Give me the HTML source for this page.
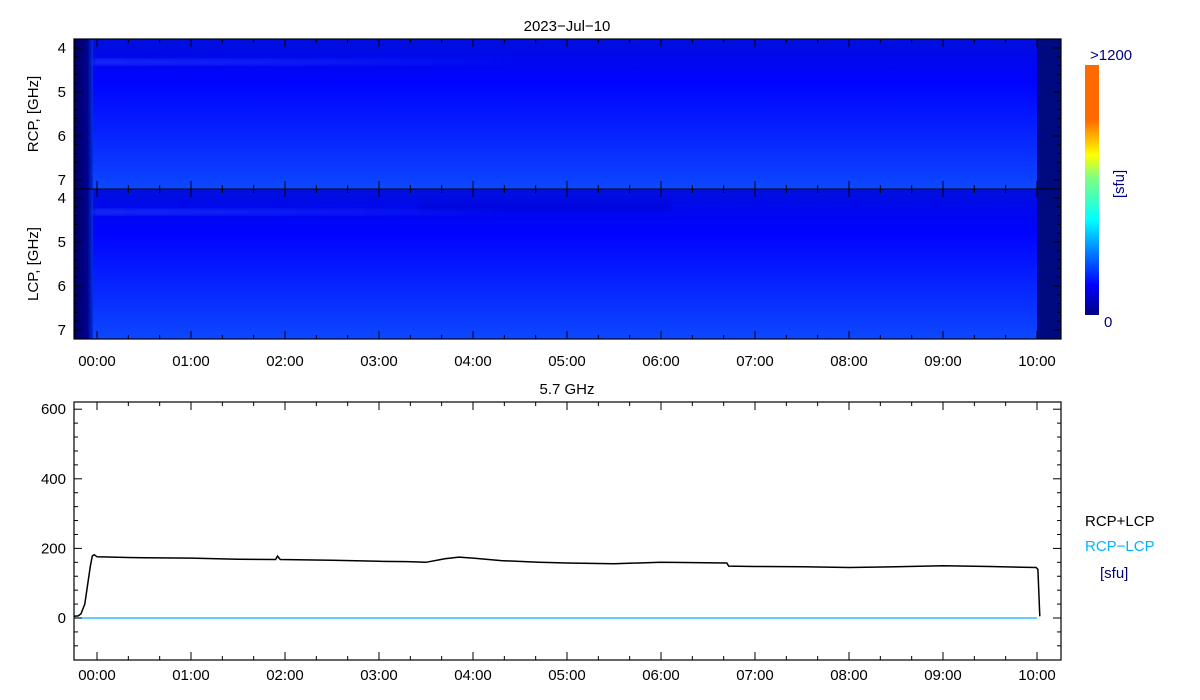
<!DOCTYPE html>
<html><head><meta charset="utf-8"><style>
html,body{margin:0;padding:0;background:#fff;width:1200px;height:700px;overflow:hidden}
svg{display:block}
text{font-family:"Liberation Sans","DejaVu Sans",sans-serif;font-size:15px}
</style></head><body>
<svg id="s" width="1200" height="700" xmlns="http://www.w3.org/2000/svg">
<defs>
<linearGradient id="gv" x1="0" y1="0" x2="0" y2="1">
<stop offset="0" stop-color="#0010dc"/>
<stop offset="0.12" stop-color="#0008ec"/>
<stop offset="0.3" stop-color="#0004ff"/>
<stop offset="0.6" stop-color="#0520ff"/>
<stop offset="0.85" stop-color="#0a38ff"/>
<stop offset="1" stop-color="#0c48ff"/>
</linearGradient>
<linearGradient id="gc" x1="0" y1="1" x2="0" y2="0">
<stop offset="0" stop-color="#000080"/>
<stop offset="0.12" stop-color="#0000ff"/>
<stop offset="0.27" stop-color="#0090ff"/>
<stop offset="0.38" stop-color="#00ffff"/>
<stop offset="0.55" stop-color="#80ff80"/>
<stop offset="0.64" stop-color="#ffff00"/>
<stop offset="0.78" stop-color="#ff6a00"/>
<stop offset="1" stop-color="#ff6a00"/>
</linearGradient>
<linearGradient id="gl" x1="0" y1="0" x2="1" y2="0">
<stop offset="0" stop-color="#000060"/>
<stop offset="0.7" stop-color="#000090"/>
<stop offset="1" stop-color="#0030e0"/>
</linearGradient>
<linearGradient id="gb" x1="0" y1="0" x2="1" y2="0">
<stop offset="0" stop-color="#3050ff" stop-opacity="0.5"/>
<stop offset="0.6" stop-color="#3050ff" stop-opacity="0.25"/>
<stop offset="1" stop-color="#3050ff" stop-opacity="0"/>
</linearGradient>
<filter id="bl"><feGaussianBlur stdDeviation="2"/></filter>
</defs>
<text x="567" y="31" text-anchor="middle" font-size="16">2023−Jul−10</text>
<rect x="74" y="39" width="987" height="150" fill="url(#gv)"/>
<rect x="74" y="189" width="987" height="150" fill="url(#gv)"/>
<rect x="74" y="39" width="19" height="300" fill="url(#gl)"/>
<rect x="1037" y="39" width="24" height="300" fill="#000a80"/>
<rect x="93" y="59" width="420" height="6" fill="url(#gb)" filter="url(#bl)"/>
<rect x="93" y="209" width="420" height="6" fill="url(#gb)" filter="url(#bl)"/>
<rect x="420" y="200" width="250" height="12" fill="#0000b0" opacity="0.2" filter="url(#bl)"/>
<rect x="1085" y="65" width="14" height="250" fill="url(#gc)"/>
<text x="1090" y="60" fill="#000080">&gt;1200</text>
<text x="1104" y="327" fill="#000080">0</text>
<text transform="translate(1124,184) rotate(-90)" text-anchor="middle" fill="#000080">[sfu]</text>
<text transform="translate(38,114) rotate(-90)" text-anchor="middle">RCP, [GHz]</text>
<text transform="translate(38,264) rotate(-90)" text-anchor="middle">LCP, [GHz]</text>
<text x="567" y="394" text-anchor="middle" font-size="16">5.7 GHz</text>
<rect x="74" y="402" width="987" height="258" fill="none" stroke="#000" stroke-width="1.2"/>
<line x1="74" y1="618" x2="1037" y2="618" stroke="#00b4ff" stroke-width="1.3"/>
<text x="1085" y="526">RCP+LCP</text>
<text x="1085" y="551" fill="#00b4ff">RCP−LCP</text>
<text x="1100" y="578" fill="#000080">[sfu]</text>
<g id="g"></g>
</svg>
<script>
var g=document.getElementById('g'),h='';
function X(t){return 97+94*t;}
function L(a,b,c,d){h+='<line x1="'+a+'" y1="'+b+'" x2="'+c+'" y2="'+d+'" stroke="#000" stroke-width="1"/>';}
function T(x,y,s,a){h+='<text x="'+x+'" y="'+y+'" text-anchor="'+(a||'middle')+'">'+s+'</text>';}
h+='<rect x="74" y="39" width="987" height="300" fill="none" stroke="#000" stroke-width="1.2"/>';
L(74,189,1061,189);
[[39,189],[189,339],[402,660]].forEach(function(p){
 for(var k=-1;k<=31;k++){var t=k/3;var x=X(t);if(x<74||x>1061)continue;var len=(k%3==0)?8:4;
  L(x,p[1],x,p[1]-len);L(x,p[0],x,p[0]+len);}
});
for(var i=0;i<=10;i++){var s=(i<10?'0':'')+i+':00';T(X(i),366,s);T(X(i),680,s);}
[[48,'RCP'],[198,'LCP']].forEach(function(p){
 for(var f=3.8;f<=7.21;f+=0.2){var y=p[0]+(f-4)*44;if(y<p[0]-9||y>p[0]+142)continue;
  var maj=Math.abs(f-Math.round(f))<0.01;var len=maj?8:4;L(74,y,74+len,y);L(1061,y,1061-len,y);
  if(maj)T(66,y+5,Math.round(f),'end');}
});
function Y(v){return 618-v*0.348;}
for(var v=-80;v<=600;v+=40){var y=Y(v);var maj=v%200==0;var len=maj?8:4;L(74,y,74+len,y);L(1061,y,1061-len,y);if(maj)T(66,y+5,v,'end');}
var pts=[[-0.245,5],[-0.2,6],[-0.17,12],[-0.13,40],[-0.1,95],[-0.07,150],[-0.05,178],[-0.03,182],[0,176],[0.5,173],[1,172],[1.5,169],[1.9,168],[1.92,178],[1.95,168],[2.5,166],[3,163],[3.3,162],[3.5,160],[3.7,170],[3.85,175],[4,172],[4.3,165],[4.7,160],[5,158],[5.5,156],[6,160],[6.7,158],[6.72,149],[7,148],[7.5,147],[8,145],[8.5,147],[9,150],[9.5,148],[9.99,145],[10.01,140],[10.03,5]];
var d='';pts.forEach(function(p,i){d+=(i?'L':'M')+X(p[0]).toFixed(1)+' '+Y(p[1]).toFixed(1);});
h+='<path d="'+d+'" fill="none" stroke="#000" stroke-width="1.5"/>';
g.innerHTML=h;
</script>
</body></html>
